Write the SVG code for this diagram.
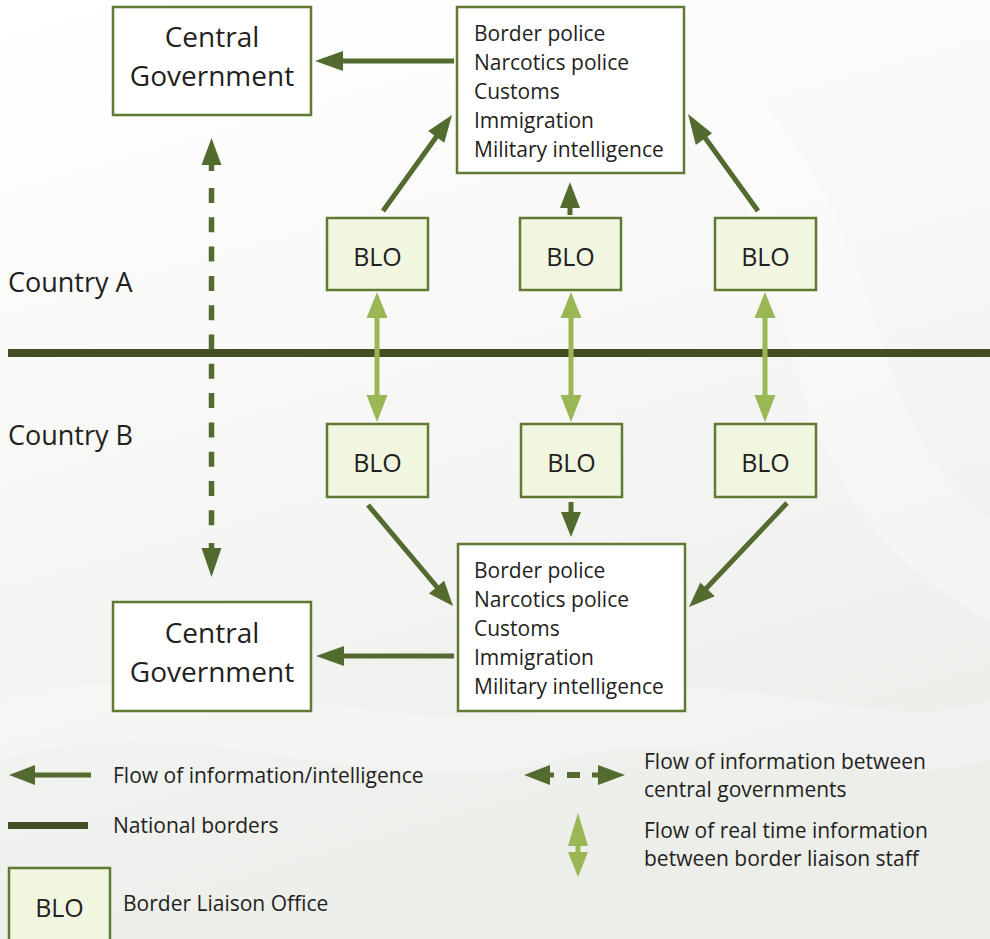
<svg xmlns="http://www.w3.org/2000/svg" width="990" height="939" viewBox="0 0 990 939">
<defs>
<linearGradient id="bg" x1="0" y1="0" x2="0.3" y2="1">
<stop offset="0" stop-color="#ffffff"/>
<stop offset="0.45" stop-color="#f8f9f7"/>
<stop offset="1" stop-color="#eceeea"/>
</linearGradient>
<style>
.box{fill:#ffffff;stroke:#5f7a33;stroke-width:2.5}
.blo{fill:#f1f6e1;stroke:#5f7a33;stroke-width:2.5}
.t{font-family:"Open Sans","Noto Sans","DejaVu Sans",sans-serif;fill:#231f20}
.cg{font-size:28px;text-anchor:middle}
.ag{font-size:21px}
.bl{font-size:25px;text-anchor:middle}
.ct{font-size:27px}
.lg{font-size:21px}
.dk{stroke:#546b30;stroke-width:5;fill:none}
.dkh{fill:#546b30}
.lt{stroke:#9ab655;stroke-width:5;fill:none}
.lth{fill:#9ab655}
</style>
</defs>
<rect x="0" y="0" width="990" height="939" fill="url(#bg)"/>
<path d="M700 120 C 820 300, 760 500, 990 620 L990 520 C 860 420, 900 260, 760 100 Z" fill="#ffffff" opacity="0.3"/>
<path d="M0 700 C 200 640, 400 760, 600 700 C 750 660, 880 740, 990 700 L990 760 C 850 800, 700 720, 560 760 C 380 810, 200 700, 0 760 Z" fill="#ffffff" opacity="0.25"/>

<g id="border"><line x1="8" y1="353" x2="990" y2="353" stroke="#414f22" stroke-width="8"/></g>

<g id="labels">
<text class="t ct" x="8" y="292">Country A</text>
<text class="t ct" x="8" y="445">Country B</text>
</g>

<g id="cgA"><rect class="box" x="113" y="7" width="198" height="108"/>
<text class="t cg" x="212" y="47">Central</text><text class="t cg" x="212" y="86">Government</text></g>
<g id="cgB"><rect class="box" x="113" y="602" width="198" height="109"/>
<text class="t cg" x="212" y="643">Central</text><text class="t cg" x="212" y="682">Government</text></g>

<g id="agA"><rect class="box" x="457" y="7" width="227" height="166"/>
<text class="t ag" x="474" y="41">Border police</text>
<text class="t ag" x="474" y="70">Narcotics police</text>
<text class="t ag" x="474" y="99">Customs</text>
<text class="t ag" x="474" y="128">Immigration</text>
<text class="t ag" x="474" y="157">Military intelligence</text></g>
<g id="agB"><rect class="box" x="458" y="544" width="227" height="167"/>
<text class="t ag" x="474" y="578">Border police</text>
<text class="t ag" x="474" y="607">Narcotics police</text>
<text class="t ag" x="474" y="636">Customs</text>
<text class="t ag" x="474" y="665">Immigration</text>
<text class="t ag" x="474" y="694">Military intelligence</text></g>

<g id="bloA1"><rect class="blo" x="327" y="218" width="101" height="72"/><text class="t bl" x="377.5" y="266">BLO</text></g>
<g id="bloA2"><rect class="blo" x="520" y="218" width="101" height="72"/><text class="t bl" x="570.5" y="266">BLO</text></g>
<g id="bloA3"><rect class="blo" x="715" y="218" width="101" height="72"/><text class="t bl" x="765.5" y="266">BLO</text></g>
<g id="bloB1"><rect class="blo" x="327" y="424" width="101" height="73"/><text class="t bl" x="377.5" y="472">BLO</text></g>
<g id="bloB2"><rect class="blo" x="521" y="424" width="101" height="73"/><text class="t bl" x="571.5" y="472">BLO</text></g>
<g id="bloB3"><rect class="blo" x="715" y="424" width="101" height="73"/><text class="t bl" x="765.5" y="472">BLO</text></g>

<g id="connectors">
<line class="dk" x1="454" y1="61" x2="335" y2="61"/><polygon class="dkh" points="315,61 343,51 343,71"/>
<line class="dk" x1="454" y1="656" x2="336" y2="656"/><polygon class="dkh" points="316,656 344,646 344,666"/>
<line class="dk" x1="383" y1="211" x2="442" y2="129"/><polygon class="dkh" points="452,115 444.3,142.8 428.1,131.1"/>
<line class="dk" x1="570" y1="215" x2="570" y2="200"/><polygon class="dkh" points="570,182 580,208 560,208"/>
<line class="dk" x1="758" y1="211" x2="698" y2="128"/><polygon class="dkh" points="688,114 712.0,133.3 695.8,145.0"/>
<line class="dk" x1="368" y1="505" x2="442" y2="593"/><polygon class="dkh" points="453,606 428.9,593.6 444.2,580.7"/>
<line class="dk" x1="571" y1="502" x2="571" y2="520"/><polygon class="dkh" points="571,537 581,512 561,512"/>
<line class="dk" x1="787" y1="503" x2="700" y2="595"/><polygon class="dkh" points="689,607 700.3,582.5 714.8,596.2"/>
<line x1="211.5" y1="164" x2="211.5" y2="171" stroke="#546b30" stroke-width="5.5"/>
<line x1="211.5" y1="188" x2="211.5" y2="527" stroke="#546b30" stroke-width="5.5" stroke-dasharray="15 14.3"/>
<line x1="211.5" y1="543" x2="211.5" y2="549" stroke="#546b30" stroke-width="5.5"/>
<polygon class="dkh" points="211.5,138 221.5,165 201.5,165"/>
<polygon class="dkh" points="211.5,577 221.5,548 201.5,548"/>
<line class="lt" x1="377" y1="316" x2="377" y2="397"/><polygon class="lth" points="377,292 387.5,318 366.5,318"/><polygon class="lth" points="377,422 387.5,395 366.5,395"/>
<line class="lt" x1="571" y1="316" x2="571" y2="397"/><polygon class="lth" points="571,292 581.5,318 560.5,318"/><polygon class="lth" points="571,422 581.5,395 560.5,395"/>
<line class="lt" x1="765" y1="316" x2="765" y2="397"/><polygon class="lth" points="765,292 775.5,318 754.5,318"/><polygon class="lth" points="765,422 775.5,395 754.5,395"/>
</g>

<g id="legend">
<line class="dk" x1="91" y1="775" x2="30" y2="775"/><polygon class="dkh" points="9,775 35,765 35,785"/>
<text class="t lg" x="113" y="783">Flow of information/intelligence</text>
<line x1="8" y1="825.5" x2="88" y2="825.5" stroke="#414f22" stroke-width="7"/>
<text class="t lg" x="113" y="833">National borders</text>
<rect class="blo" x="9" y="868" width="101" height="80"/>
<text class="t bl" x="59.5" y="917">BLO</text>
<text class="t lg" x="123" y="911">Border Liaison Office</text>
<polygon class="dkh" points="524,775 550,765 550,785"/>
<line x1="548" y1="775" x2="554" y2="775" stroke="#546b30" stroke-width="5"/>
<line x1="567" y1="775" x2="580" y2="775" stroke="#546b30" stroke-width="6"/>
<line x1="592" y1="775" x2="599" y2="775" stroke="#546b30" stroke-width="5"/>
<polygon class="dkh" points="625,775 598,765 598,785"/>
<text class="t lg" x="644" y="769">Flow of information between</text>
<text class="t lg" x="644" y="797">central governments</text>
<polygon class="lth" points="578,813 588,846 568,846"/>
<line class="lt" x1="578" y1="844" x2="578" y2="854"/>
<polygon class="lth" points="578,877 588,852 568,852"/>
<text class="t lg" x="644" y="838">Flow of real time information</text>
<text class="t lg" x="644" y="866">between border liaison staff</text>
</g>
</svg>
